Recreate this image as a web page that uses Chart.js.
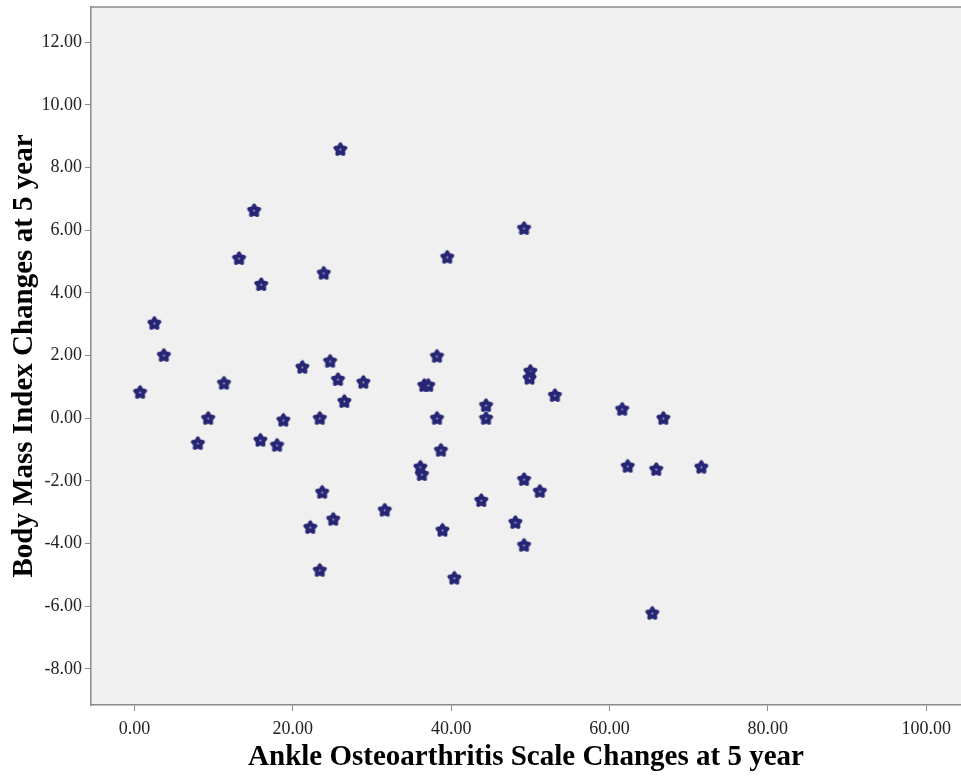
<!DOCTYPE html>
<html lang="en">
<head>
    <meta charset="UTF-8">
    <title>BMI vs Ankle OA</title>
    <script src="https://cdn.jsdelivr.net/npm/chart.js"></script>
    <style>
        html, body { margin: 0; padding: 0; background: #fff; overflow: hidden; }
        canvas { display: block; }
    </style>
</head>
<body>
    <canvas id="scatter" width="961" height="776"></canvas>

    <script>
        // Ankle Osteoarthritis Scale change (x) vs BMI change (y)
        const aoxChanges = [
            0.7, 2.5, 3.7, 8.0, 9.3, 11.3, 13.2, 15.1, 16.0, 15.9,
            18.0, 18.8, 21.2, 22.2, 23.4, 23.4, 23.7, 23.9, 24.7, 25.1,
            25.7, 26.0, 26.5, 28.9, 31.6, 36.1, 36.3, 36.6, 37.1, 38.2,
            38.2, 38.7, 38.9, 39.5, 40.4, 43.8, 44.4, 44.4, 48.1, 49.2,
            49.2, 49.2, 50.0, 49.9, 51.2, 53.1, 61.6, 62.3, 65.9, 65.4,
            66.8, 71.6
        ];
        const bmiChanges = [
            0.83, 3.03, 2.01, -0.80, 0.0, 1.12, 5.10, 6.63, 4.27, -0.70,
            -0.86, -0.06, 1.63, -3.48, 0.0, -4.85, -2.36, 4.63, 1.82, -3.22,
            1.24, 8.58, 0.54, 1.15, -2.93, -1.56, -1.79, 1.05, 1.05, 1.98,
            0.0, -1.02, -3.57, 5.14, -5.10, -2.62, 0.41, 0.0, -3.32, 6.06,
            -1.95, -4.05, 1.50, 1.28, -2.33, 0.73, 0.29, -1.53, -1.63, -6.22,
            0.0, -1.56
        ];
        const xTickValues = [0, 20, 40, 60, 80, 100];
        const yTickValues = [-8, -6, -4, -2, 0, 2, 4, 6, 8, 10, 12];

        const points = aoxChanges.map((x, i) => ({ x: x, y: bmiChanges[i] }));

        // rounded star marker like the SPSS one
        function makeMarker(color) {
            const c = document.createElement('canvas');
            c.width = 17; c.height = 17;
            const g = c.getContext('2d');
            const cx = 8.5, cy = 8.8, ro = 5.5, ri = 3.0;
            g.beginPath();
            for (let k = 0; k < 10; k++) {
                const r = k % 2 === 0 ? ro : ri;
                const a = -Math.PI / 2 + k * Math.PI / 5;
                const px = cx + r * Math.cos(a), py = cy + r * Math.sin(a);
                if (k === 0) g.moveTo(px, py); else g.lineTo(px, py);
            }
            g.closePath();
            g.fillStyle = color;
            g.strokeStyle = color;
            g.lineWidth = 3.6;
            g.lineJoin = 'round';
            g.fill();
            g.stroke();
            g.beginPath();
            g.arc(cx, cy, 1.0, 0, Math.PI * 2);
            g.fillStyle = '#a8a8cc';
            g.fill();
            return c;
        }

        const plotBg = {
            id: 'plotBg',
            beforeDraw(chart) {
                const { ctx, chartArea: a } = chart;
                ctx.save();
                ctx.fillStyle = '#f0f0f0';
                ctx.fillRect(a.left, a.top, a.right - a.left, a.bottom - a.top);
                ctx.strokeStyle = '#8a8a8a';
                ctx.lineWidth = 1.5;
                ctx.beginPath();
                ctx.moveTo(a.left, a.top);
                ctx.lineTo(a.right, a.top);
                ctx.stroke();
                ctx.restore();
            }
        };

        // no extra room for edge labels, the plot box is fixed
        function noPad(s) {
            s.paddingTop = 0; s.paddingBottom = 0;
            s.paddingLeft = 0; s.paddingRight = 0;
        }

        const tickFont = { family: 'Liberation Serif', size: 18 };
        const titleFont = { family: 'Liberation Serif', size: 29, weight: 'bold' };

        new Chart(document.getElementById('scatter'), {
            type: 'scatter',
            data: {
                datasets: [{
                    data: points,
                    pointStyle: makeMarker('#262675'),
                    pointRadius: 7,
                    pointHoverRadius: 7
                }]
            },
            options: {
                responsive: false,
                animation: false,
                devicePixelRatio: 1,
                layout: { autoPadding: false, padding: { top: 7, right: 0, left: 0, bottom: 0 } },
                plugins: {
                    legend: { display: false },
                    tooltip: { enabled: false }
                },
                scales: {
                    x: {
                        type: 'linear',
                        min: -5.5,
                        max: 104.4,
                        afterBuildTicks: s => { s.ticks = xTickValues.map(v => ({ value: v })); },
                        afterFit: s => { s.height = 71; noPad(s); },
                        border: { color: '#8a8a8a', width: 1.5 },
                        grid: { drawOnChartArea: false, tickLength: 6, color: '#8a8a8a', tickWidth: 1 },
                        ticks: {
                            font: tickFont,
                            color: '#222',
                            padding: 7,
                            maxRotation: 0,
                            callback: v => v.toFixed(2)
                        },
                        title: {
                            display: true,
                            text: 'Ankle Osteoarthritis Scale Changes at 5 year',
                            font: titleFont,
                            color: '#000',
                            padding: { top: 0, bottom: 1 }
                        }
                    },
                    y: {
                        type: 'linear',
                        min: -9.15,
                        max: 13.12,
                        afterBuildTicks: s => { s.ticks = yTickValues.map(v => ({ value: v })); },
                        afterFit: s => { s.width = 91; noPad(s); },
                        border: { color: '#8a8a8a', width: 1.5 },
                        grid: { drawOnChartArea: false, tickLength: 6, color: '#8a8a8a', tickWidth: 1 },
                        ticks: {
                            font: tickFont,
                            color: '#222',
                            padding: 3,
                            callback: v => v.toFixed(2)
                        },
                        title: {
                            display: true,
                            text: 'Body Mass Index Changes at 5 year',
                            font: titleFont,
                            color: '#000',
                            padding: { top: 7, bottom: 0 }
                        }
                    }
                }
            },
            plugins: [plotBg]
        });
    </script>
</body>
</html>
